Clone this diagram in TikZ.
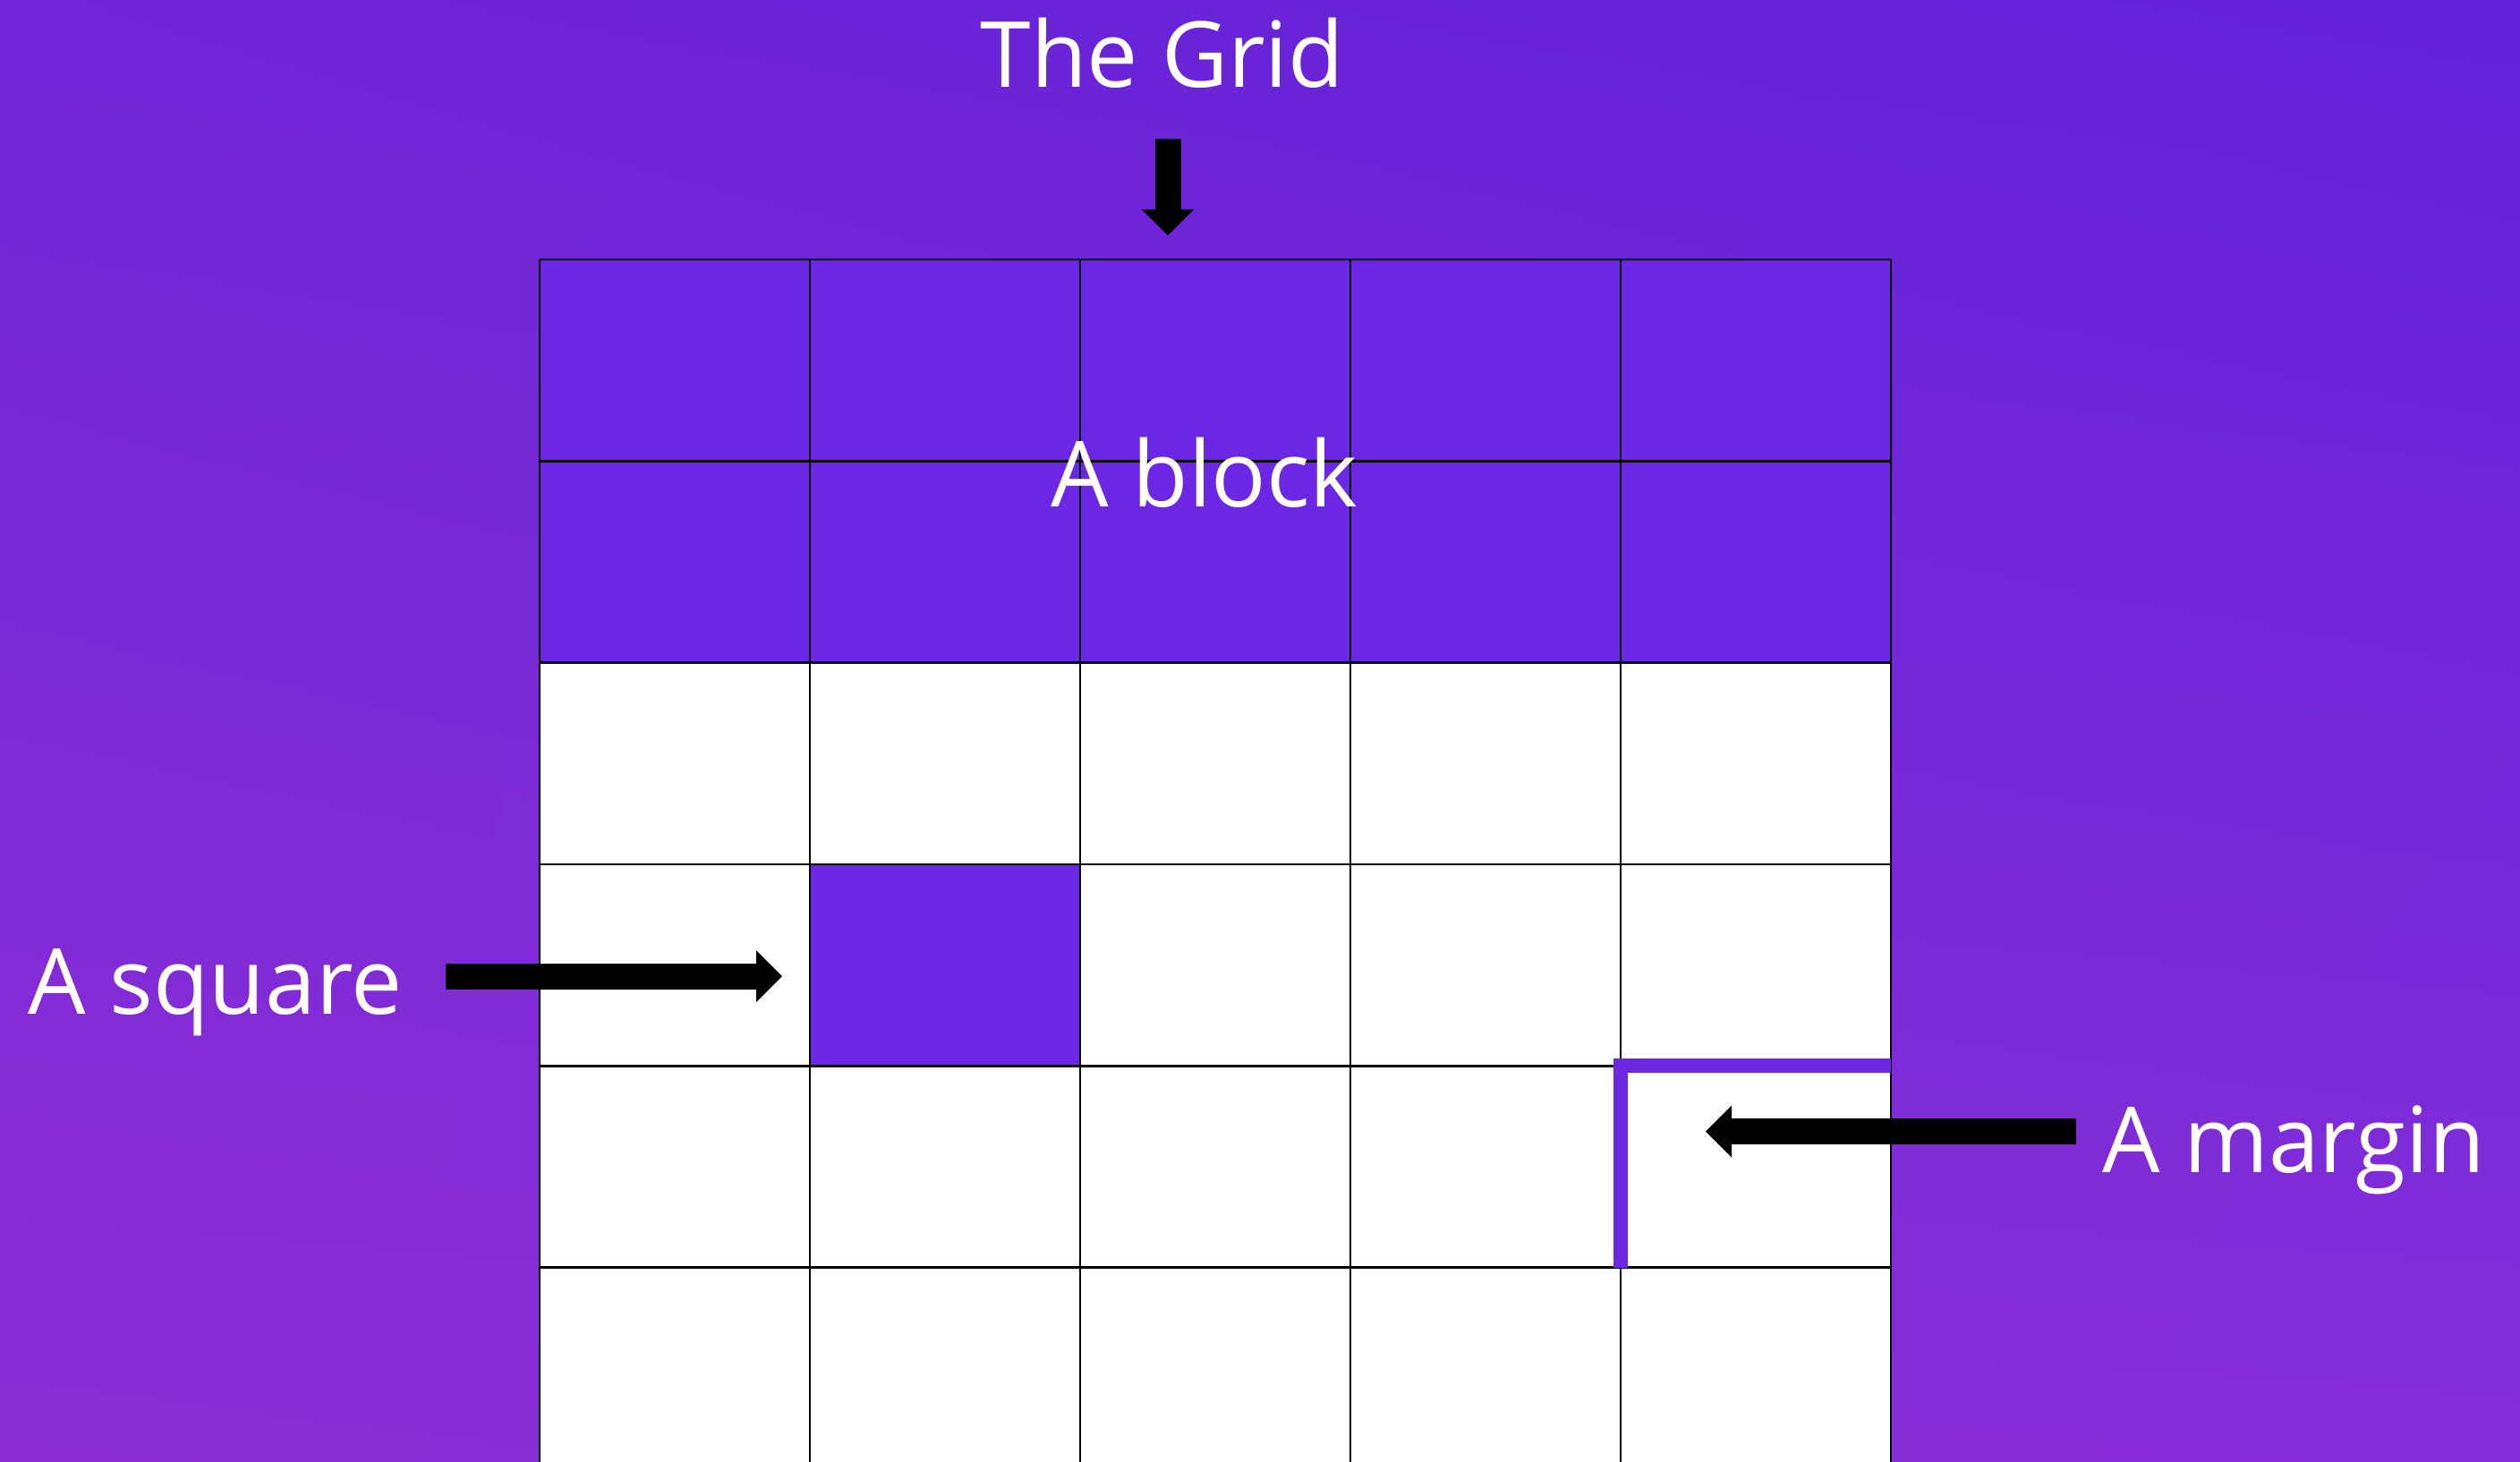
\documentclass[tikz,border=0pt]{standalone}
\usepackage{fontspec}
\setmainfont{Open Sans}
\usepackage{xcolor}
\usetikzlibrary{arrows.meta,shadings}
\definecolor{bgtopleft}{HTML}{7025D6}
\definecolor{bgtopright}{HTML}{6122D8}
\definecolor{bgbotleft}{HTML}{8B2ED6}
\definecolor{bgbotright}{HTML}{852DD9}
\definecolor{cellpurple}{HTML}{6C27E4}

\begin{document}
\begin{tikzpicture}[callout/.style={text=white,font=\fontsize{29}{35}\selectfont,inner sep=0pt,anchor=base},
    gridline/.style={black,line width=0.8pt},
    blockarrow/.style={black,line width=0.29cm,-{Triangle[width=0.58cm,length=0.29cm,line width=0pt]}}]
    \useasboundingbox (0,0) rectangle (28.16,-16.33);
    \shade[upper left=bgtopleft,upper right=bgtopright,lower left=bgbotleft,lower right=bgbotright] (0,0) rectangle (28.16,-16.33);
    \clip (0,0) rectangle (28.16,-16.33);
    \fill[white] (6.03,-2.90) rectangle (21.13,-16.42);
    \fill[cellpurple] (6.03,-2.90) rectangle (21.13,-7.406);
    \fill[cellpurple] (9.05,-9.659) rectangle (12.07,-11.912);
    \foreach \i in {0,...,5}
      \draw[gridline] ({6.03+3.02*\i},-2.90) -- ++(0,-13.6);
    \foreach \j in {0,...,6}
      \draw[gridline] (6.03,{-2.90-2.253*\j}) -- ++(15.1,0);
    \draw[cellpurple,line width=0.16cm] (18.11,-14.17) -- (18.11,-11.91) -- (21.13,-11.91);
    \node[callout] (gridlbl) at (12.99,-0.97) {The Grid};
    \node[callout] (blocklbl) at (13.46,-5.66) {A block};
    \node[callout] (squarelbl) at (2.41,-11.33) {A square};
    \node[callout] (marginlbl) at (25.63,-13.10) {A margin};
    \coordinate (gridfrom) at (13.05,-1.55);
    \coordinate (gridto) at (13.05,-2.63);
    \coordinate (squarefrom) at (4.98,-10.91);
    \coordinate (squareto) at (8.74,-10.91);
    \coordinate (marginfrom) at (23.20,-12.645);
    \coordinate (marginto) at (19.06,-12.645);
    \draw[blockarrow] (gridfrom) -- (gridto);
    \draw[blockarrow] (squarefrom) -- (squareto);
    \draw[blockarrow] (marginfrom) -- (marginto);
  \end{tikzpicture}
\end{document}
